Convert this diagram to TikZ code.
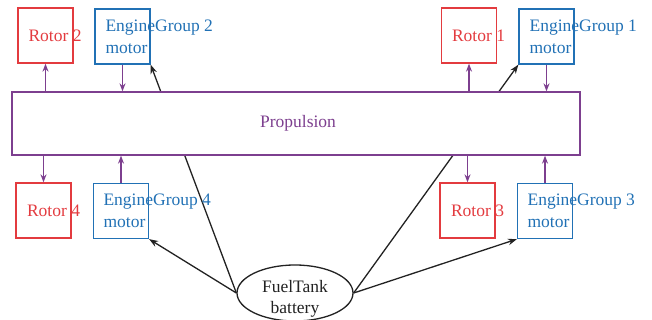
\documentclass[tikz,border=0pt]{standalone}
\usepackage{fontspec}
\setmainfont{Liberation Serif}
\usetikzlibrary{arrows.meta,shapes.geometric}
\definecolor{rotred}{HTML}{E33B3F}
\definecolor{engblue}{HTML}{2171B5}
\definecolor{proppurple}{HTML}{7D3F8F}
\definecolor{inkgray}{HTML}{222222}
\begin{document}
\begin{tikzpicture}[x=1pt,y=-1pt,
  box/.style={draw,line width=1.3pt,minimum width=55pt,minimum height=55pt,inner sep=0pt},
  rotorbox/.style={box,draw=rotred},
  enginebox/.style={box,draw=engblue},
  lbl/.style={anchor=west,align=left,inner sep=0pt,font=\fontsize{17.5}{22}\selectfont},
  rotorlbl/.style={lbl,text=rotred},
  enginelbl/.style={lbl,text=engblue},
  flow/.style={draw=proppurple,line width=1.3pt,-{Stealth[length=8pt,width=6pt]}},
  feed/.style={draw=inkgray,line width=1.3pt,-{Stealth[length=9pt,width=6.5pt]}}]
\useasboundingbox (0,0) rectangle (652,320);

% rotors and engine groups, top row
\node[rotorbox]  (r2)  at (45.5,35.5) {};
\node[enginebox] (eg2) at (122.5,36.5) {};
\node[rotorbox]  (r1)  at (469,35.5) {};
\node[enginebox] (eg1) at (546.5,36.5) {};
% bottom row
\node[rotorbox]  (r4)  at (43.5,210.5) {};
\node[enginebox] (eg4) at (121,211) {};
\node[rotorbox]  (r3)  at (467.5,210.5) {};
\node[enginebox] (eg3) at (545,211) {};

% fuel tank
\node[ellipse,draw=inkgray,line width=1.3pt,fill=white,minimum width=116pt,minimum height=56pt,inner sep=0pt] (tank) at (295,293) {};

% feed lines from the tank to the engine groups (run behind the propulsion block)
\draw[feed] (tank.west) -- (eg2.south east);
\draw[feed] (tank.east) -- (eg1.south west);
\draw[feed] (tank.west) -- (eg4.south east);
\draw[feed] (tank.east) -- (eg3.south west);

% propulsion block
\node[draw=proppurple,line width=1.3pt,fill=white,minimum width=568pt,minimum height=63pt,inner sep=0pt] (prop) at (296,123.5) {};
\node[text=proppurple,inner sep=0pt,font=\fontsize{17.5}{22}\selectfont] (proplbl) at (298,123.5) {Propulsion};

% propulsion links
\draw[flow] (r2.south |- prop.north) -- (r2.south);
\draw[flow] (eg2.south) -- (eg2.south |- prop.north);
\draw[flow] (r1.south |- prop.north) -- (r1.south);
\draw[flow] (eg1.south) -- (eg1.south |- prop.north);
\draw[flow] (r4.north |- prop.south) -- (r4.north);
\draw[flow] (eg4.north) -- (eg4.north |- prop.south);
\draw[flow] (r3.north |- prop.south) -- (r3.north);
\draw[flow] (eg3.north) -- (eg3.north |- prop.south);

% labels
\node[rotorlbl]  (r2lbl)  at ([xshift=11pt]r2.west)  {Rotor 2};
\node[enginelbl] (eg2lbl) at ([xshift=11pt]eg2.west) {EngineGroup 2\\motor};
\node[rotorlbl]  (r1lbl)  at ([xshift=11pt]r1.west)  {Rotor 1};
\node[enginelbl] (eg1lbl) at ([xshift=11pt]eg1.west) {EngineGroup 1\\motor};
\node[rotorlbl]  (r4lbl)  at ([xshift=11.5pt]r4.west)  {Rotor 4};
\node[enginelbl] (eg4lbl) at ([xshift=10.5pt]eg4.west) {EngineGroup 4\\motor};
\node[rotorlbl]  (r3lbl)  at ([xshift=11.5pt]r3.west)  {Rotor 3};
\node[enginelbl] (eg3lbl) at ([xshift=10.5pt]eg3.west) {EngineGroup 3\\motor};
\node[align=center,text=inkgray,inner sep=0pt,font=\fontsize{17.5}{21}\selectfont] (tanklbl) at (295,299) {FuelTank\\battery};
\end{tikzpicture}
\end{document}
